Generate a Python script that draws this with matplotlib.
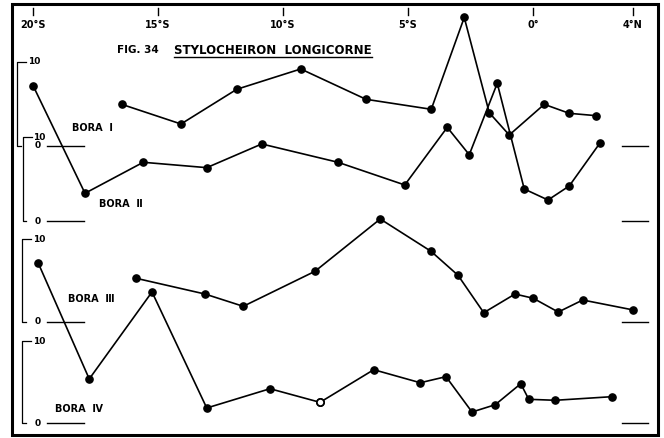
import matplotlib.pyplot as plt
from matplotlib.patches import Rectangle

W, H = 664, 438

# latitude (negative = south) and catch for each station line
lat_1 = [-16.45, -14.08, -11.85, -9.29, -6.68, -4.07, -2.75, -1.75, -0.95, 0.45, 1.45, 2.53]
val_1 = [4.96, 2.62, 6.75, 9.17, 5.56, 4.37, 15.3, 3.96, 1.31, 4.96, 3.89, 3.61]

lat_2 = [-19.99, -17.92, -15.59, -13.05, -10.85, -7.8, -5.13, -3.43, -2.55, -1.43, -0.35, 0.6, 1.45, 2.67]
val_2 = [16.07, 3.30, 6.99, 6.35, 9.17, 6.99, 4.29, 11.15, 7.89, 16.39, 3.81, 2.5, 4.17, 9.25]

lat_3 = [-15.88, -13.12, -11.59, -8.72, -6.11, -4.08, -3.0, -1.97, -0.72, 0.01, 1.01, 1.99, 4.01]
val_3 = [5.27, 3.37, 1.89, 6.11, 12.41, 8.52, 5.63, 1.12, 3.37, 2.86, 1.2, 2.65, 1.45]

lat_4 = [-19.79, -17.75, -15.24, -13.05, -10.52, -8.52, -6.37, -4.51, -3.48, -2.44, -1.51, -0.49, -0.17, 0.89, 3.16]
val_4 = [19.5, 5.37, 15.98, 1.83, 4.18, 2.52, 6.5, 4.91, 5.65, 1.34, 2.23, 4.79, 2.89, 2.77, 3.21]
open_4 = [5]

lat_ticks = [-20, -15, -10, -5, 0, 4]
lat_labels = ['20°S', '15°S', '10°S', '5°S', '0°', '4°N']


def px(x):
    return x / W


def py(y):
    return 1 - y / H


fig = plt.figure(figsize=(W / 100, H / 100), dpi=100)

X0, XDEG = 533, 25          # pixel of the equator, pixels per degree
xlim = (-X0 / XDEG, (W - X0) / XDEG)

# data, zero line row, pixels per unit, bracket column, label, label pos, open points
panels = [
    (lat_1, val_1, 146, 8.4, 16.7, 'BORA  Ⅰ', (72, 128), []),
    (lat_2, val_2, 221, 8.4, 22.5, 'BORA  Ⅱ', (99, 204), []),
    (lat_3, val_3, 322, 8.3, 22.0, 'BORA  Ⅲ', (68, 299), []),
    (lat_4, val_4, 423, 8.2, 22.0, 'BORA  Ⅳ', (55, 409), open_4),
]

txt = dict(color='k', fontweight='bold', family='DejaVu Sans')

axes = []
for lats, vals, y0, u, bx, name, (lx, ly), opens in panels:
    ax = fig.add_axes([0, 0, 1, 1])
    ax.set_xlim(xlim)
    ax.set_ylim(-(H - y0) / u, y0 / u)
    ax.axis('off')
    ax.patch.set_alpha(0)
    axes.append(ax)

    ax.plot(lats, vals, '-o', color='k', lw=1.2, ms=5.2, mfc='k', mec='k')
    for i in opens:
        ax.plot(lats[i], vals[i], 'o', ms=5.2, mfc='white', mec='k', mew=1.3)

    t = ax.get_yaxis_transform()
    # scale bracket 0..10 on the left
    ax.plot([px(bx + 9), px(bx), px(bx), px(bx + 4)], [10, 10, 0, 0],
            transform=t, color='k', lw=0.9)
    ax.text(px(bx + 11), 10, '10', transform=t, ha='left', va='center', fontsize=6.5, **txt)
    ax.text(px(35), 0, '0', transform=t, ha='left', va='center', fontsize=6.5, **txt)
    ax.plot([px(47), px(84)], [0, 0], transform=t, color='k', lw=1.0)
    ax.plot([px(622), px(648)], [0, 0], transform=t, color='k', lw=1.0)

    fig.text(px(lx), py(ly), name, ha='left', va='center', fontsize=7, **txt)

# latitude ticks along the top
ax0 = axes[0]
tx = ax0.get_xaxis_transform()
for lat, lab in zip(lat_ticks, lat_labels):
    ax0.plot([lat, lat], [py(8), py(15)], transform=tx, color='k', lw=1.0)
    ax0.text(lat, py(25), lab, transform=tx, ha='center', va='center', fontsize=7, **txt)

# title
fig.text(px(117), py(50), 'FIG. 34', ha='left', va='center', fontsize=7.5, **txt)
fig.text(px(174), py(50), 'STYLOCHEIRON  LONGICORNE', ha='left', va='center', fontsize=8.5, **txt)
fig.add_artist(plt.Line2D([px(174), px(372)], [py(57), py(57)], color='k', lw=1.0))

# outer frame
fig.add_artist(Rectangle((px(12), py(435)), px(658) - px(12), py(4) - py(435),
                         transform=fig.transFigure, fill=False, lw=2.2, color='k'))

fig.savefig('out.png', dpi=100)
